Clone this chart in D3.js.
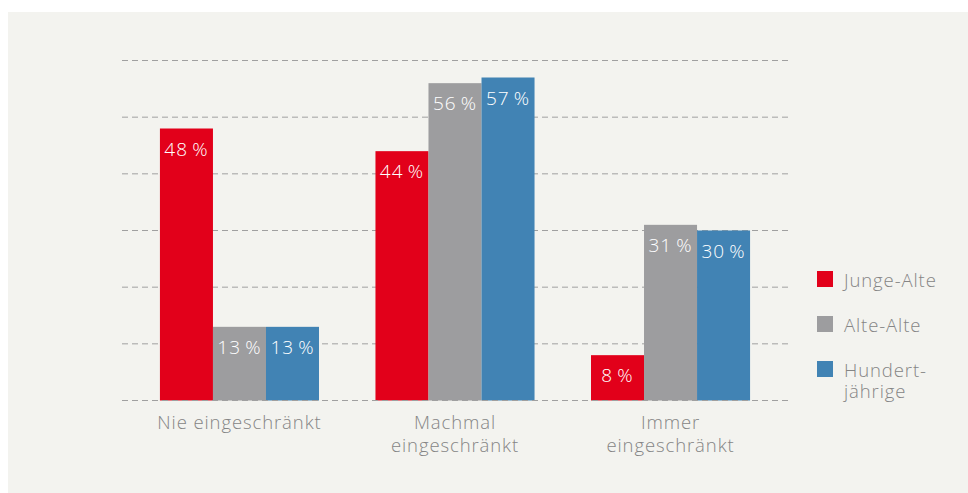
<!DOCTYPE html>
<html>
<head>
<meta charset="utf-8">
<script src="https://cdn.jsdelivr.net/npm/d3@7"></script>
<style>
  body { margin: 0; background: #fff; }
  svg { display: block; font-family: 'Open Sans', sans-serif; font-weight: 350; }
  .cat-label, .legend-label { fill: #858585; font-size: 18.5px; letter-spacing: 0.9px; }
  .value-label { fill: #fff; font-size: 19px; letter-spacing: 1px; }
  .grid line { stroke: #a0a0a0; stroke-dasharray: 6,4; }
</style>
</head>
<body>
<svg width="968" height="493"></svg>
<script>
const categories = [['Nie eingeschränkt'], ['Machmal', 'eingeschränkt'], ['Immer', 'eingeschränkt']];
const seriesNames = [['Junge-Alte'], ['Alte-Alte'], ['Hundert-', 'jährige']];
const jungeAlte = [48, 44, 8];
const alteAlte = [13, 56, 31];
const hundertjaehrige = [13, 57, 30];
const gridTicks = [0, 10, 20, 30, 40, 50, 60];
const colors = ['#e2001a', '#9d9d9f', '#4183b4'];

const series = [jungeAlte, alteAlte, hundertjaehrige];

const svg = d3.select('svg');
const width = +svg.attr('width');
const height = +svg.attr('height');

svg.append('rect')
    .attr('x', 8)
    .attr('y', 12)
    .attr('width', width - 8)
    .attr('height', height - 12)
    .attr('fill', '#f3f3ef');

const xScale = d3.scaleBand()
    .domain(d3.range(categories.length))
    .range([122, 788])
    .paddingInner(0.262)
    .paddingOuter(0.176);

const subScale = d3.scaleBand()
    .domain(d3.range(series.length))
    .range([0, xScale.bandwidth()]);

const yScale = d3.scaleLinear()
    .domain([0, 60])
    .range([400.5, 60.5]);

// grid lines behind bars
const grid = svg.append('g').attr('class', 'grid');
grid.selectAll('line')
    .data(gridTicks.filter(t => t > 0))
    .join('line')
    .attr('x1', 122)
    .attr('x2', 788)
    .attr('y1', d => yScale(d))
    .attr('y2', d => yScale(d));

const groups = svg.selectAll('.group')
    .data(categories)
    .join('g')
    .attr('class', 'group')
    .attr('transform', (d, i) => `translate(${xScale(i)},0)`);

groups.each(function(cat, ci) {
    const g = d3.select(this);
    series.forEach((values, si) => {
        const v = values[ci];
        g.append('rect')
            .attr('x', subScale(si))
            .attr('y', yScale(v))
            .attr('width', subScale.bandwidth())
            .attr('height', yScale(0) - yScale(v))
            .attr('fill', colors[si]);
        g.append('text')
            .attr('class', 'value-label')
            .attr('x', subScale(si) + subScale.bandwidth() / 2)
            .attr('y', yScale(v) + 27)
            .attr('text-anchor', 'middle')
            .text(`${v}\u2009%`);
    });
    cat.forEach((line, li) => {
        g.append('text')
            .attr('class', 'cat-label')
            .attr('text-anchor', 'middle')
            .attr('x', xScale.bandwidth() / 2)
            .attr('y', 429 + li * 23)
            .text(line);
    });
});

// baseline drawn on top
svg.append('g').attr('class', 'grid')
    .append('line')
    .attr('x1', 122)
    .attr('x2', 788)
    .attr('y1', yScale(0))
    .attr('y2', yScale(0));

const legend = svg.append('g')
    .attr('transform', 'translate(817, 271)');

const legendItems = legend.selectAll('g')
    .data(seriesNames)
    .join('g')
    .attr('transform', (d, i) => `translate(0, ${i * 45})`);

legendItems.append('rect')
    .attr('width', 16)
    .attr('height', 16)
    .attr('fill', (d, i) => colors[i]);

legendItems.each(function(lines) {
    lines.forEach((line, li) => {
        d3.select(this).append('text')
            .attr('class', 'legend-label')
            .attr('x', 27)
            .attr('y', 16 + li * 21)
            .text(line);
    });
});
</script>
</body>
</html>
